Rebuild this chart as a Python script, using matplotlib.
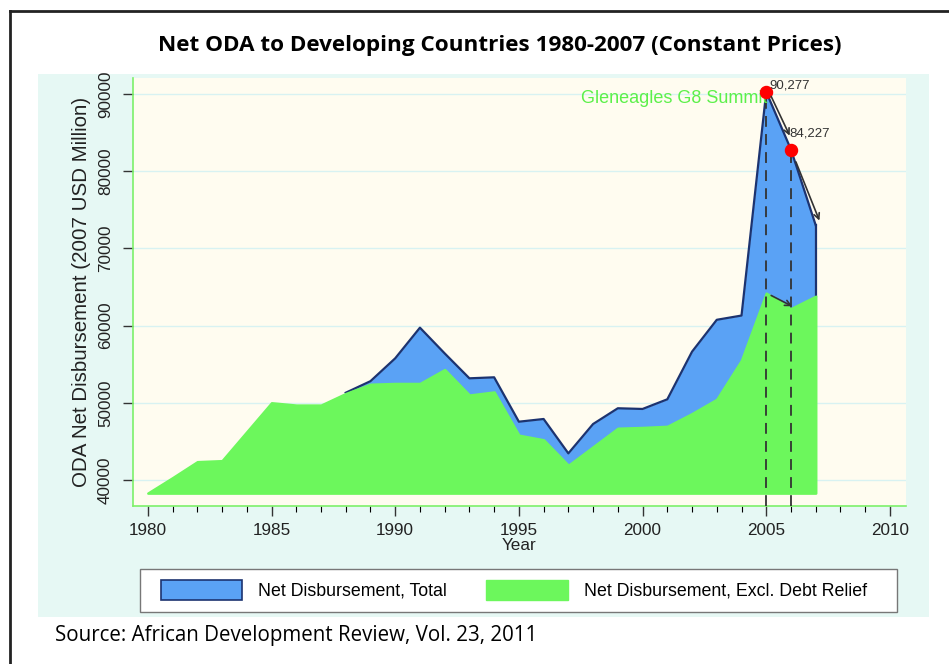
import matplotlib
matplotlib.use("Agg")
import matplotlib.pyplot as plt
from matplotlib.patches import Rectangle
from matplotlib.lines import Line2D

# data (constant 2007 USD million)
years = list(range(1980, 2008))
total = [38300, 40300, 42370, 42500, 46250, 50000, 49700, 49700, 51300, 52800,
         55760, 59730, 56400, 53170, 53300, 47550, 47900, 43450, 47250, 49290,
         49200, 50450, 56620, 60750, 61300, 90277, 82800, 73000]
excl = [38300, 40300, 42370, 42500, 46250, 50000, 49700, 49700, 51200, 52400,
        52500, 52500, 54300, 51000, 51400, 45800, 45200, 41900, 44300, 46700,
        46800, 46950, 48600, 50450, 55500, 64200, 62200, 63800]
base = 38300
peak_labels = ["90,277", "84,227"]
series_names = ["Net Disbursement, Total", "Net Disbursement, Excl. Debt Relief"]

blue = "#5aa2f5"
navy = "#1c3370"
green = "#6cf75c"
W, H = 949, 664
sans = "Liberation Sans"

fig = plt.figure(figsize=(W / 100, H / 100), dpi=100)
fig.patch.set_facecolor("white")

def fx(px):
    return px / W

def fy(py):
    return 1 - py / H

# outer frame (top and left visible)
fig.add_artist(Line2D([fx(10), fx(949)], [fy(11), fy(11)], color="#222222", lw=2))
fig.add_artist(Line2D([fx(10), fx(10)], [fy(11), fy(664)], color="#222222", lw=2))

# light cyan graph region
fig.add_artist(Rectangle((fx(38), fy(617)), fx(929) - fx(38), fy(74) - fy(617),
                         facecolor="#e6f8f4", edgecolor="none", zorder=0))

fig.text(fx(500), fy(46), "Net ODA to Developing Countries 1980-2007 (Constant Prices)",
         ha="center", va="center", fontsize=16.2, fontweight="bold", family="Open Sans")
fig.text(fx(55), fy(636), "Source: African Development Review, Vol. 23, 2011",
         ha="left", va="center", fontsize=14.8, family="Open Sans")

ax = fig.add_axes([fx(133), fy(506), fx(906) - fx(133), fy(78) - fy(506)])
ax.set_facecolor("#fffcf0")
ax.set_xlim(1979.4, 2010.65)
ax.set_ylim(36630, 92070)

for y in range(40000, 100000, 10000):
    ax.axhline(y, color="#d8f2f2", lw=1, zorder=0)

# outline of the total only where it separates from the excl. series
start = next(i for i in range(len(years)) if total[i] != excl[i])
ax.fill_between(years, base, total, color=blue, lw=0, zorder=2)
ax.plot(years[start:], total[start:], color=navy, lw=1.6, zorder=3)
ax.plot([years[-1], years[-1]], [excl[-1], total[-1]], color=navy, lw=1.6, zorder=3)
ax.fill_between(years, base, excl, color=green, edgecolor=green, lw=1.8, zorder=4)

# dashed markers for 2005 and 2006
i05 = years.index(2005)
i06 = years.index(2006)
for i in (i05, i06):
    ax.plot([years[i], years[i]], [36630, total[i]], color="#333333", lw=1.3,
            ls=(0, (6, 4)), zorder=5, clip_on=False)
ax.scatter([years[i05], years[i06]], [total[i05], total[i06]], s=75, color="red",
           zorder=7, clip_on=False)

ax.text(years[i05] + 0.12, total[i05] + 100, peak_labels[0], fontsize=9.5,
        color="#333333", family=sans, va="bottom", ha="left", zorder=8)
ax.text(years[i06] - 0.05, total[i06] + 1300, peak_labels[1], fontsize=9.5,
        color="#333333", family=sans, va="bottom", ha="left", zorder=8)
ax.text(years[i05] + 0.05, total[i05] - 900, "Gleneagles G8 Summit", fontsize=13,
        color="#5cf04a", family=sans, ha="right", va="center", zorder=6)

arr = dict(arrowstyle="->", color="#333333", lw=1.2, shrinkA=0, shrinkB=0)
ax.annotate("", xy=(years[i06] - 0.05, total[i06] + 1800),
            xytext=(years[i05] + 0.2, total[i05] - 600), arrowprops=arr, zorder=8)
ax.annotate("", xy=(years[-1] + 0.15, total[-1] + 600),
            xytext=(years[i06] + 0.2, total[i06] - 1600), arrowprops=arr, zorder=8)
ax.annotate("", xy=(years[i06] + 0.05, excl[i06] + 300),
            xytext=(years[i05] + 0.2, excl[i05] - 300), arrowprops=arr, zorder=8)

for s in ("top", "right"):
    ax.spines[s].set_visible(False)
for s in ("left", "bottom"):
    ax.spines[s].set_color("#7df06a")
    ax.spines[s].set_linewidth(1.2)

ax.set_xticks(range(1980, 2011, 5))
ax.set_xticks(range(1980, 2011), minor=True)
ax.set_yticks(range(40000, 100000, 10000))
ax.tick_params(axis="both", colors="#333333", labelcolor="#222222", labelsize=12.3)
ax.tick_params(axis="x", which="major", length=7.5, width=1, pad=5)
ax.tick_params(axis="x", which="minor", length=4, width=0.8)
ax.tick_params(axis="y", length=7.5, width=1, pad=7)
for lab in ax.get_xticklabels() + ax.get_yticklabels():
    lab.set_family(sans)
for lab in ax.get_yticklabels():
    lab.set_rotation(90)
    lab.set_va("center")
ax.set_xlabel("Year", fontsize=12.3, family=sans, labelpad=0, color="#222222")
ax.set_ylabel("ODA Net Disbursement (2007 USD Million)", fontsize=14.8,
              family=sans, labelpad=5, color="#222222")

# legend box drawn separately to match the wide frame
fig.add_artist(Rectangle((fx(140), fy(612)), fx(897) - fx(140), fy(569) - fy(612),
                         facecolor="white", edgecolor="#777777", lw=1.0, zorder=1))
handles = [Rectangle((0, 0), 1, 1, facecolor=blue, edgecolor=navy, lw=1.2),
           Rectangle((0, 0), 1, 1, facecolor=green, edgecolor=green)]
leg = fig.legend(handles, series_names, loc="center",
                 bbox_to_anchor=(fx(514), fy(590)),
                 ncol=2, frameon=False, handlelength=4.6,
                 handleheight=1.4, handletextpad=0.9, columnspacing=2.2, borderpad=0.55,
                 borderaxespad=0, prop={"family": sans, "size": 12.8})
leg.set_zorder(2)

fig.savefig("out.png", dpi=100)
